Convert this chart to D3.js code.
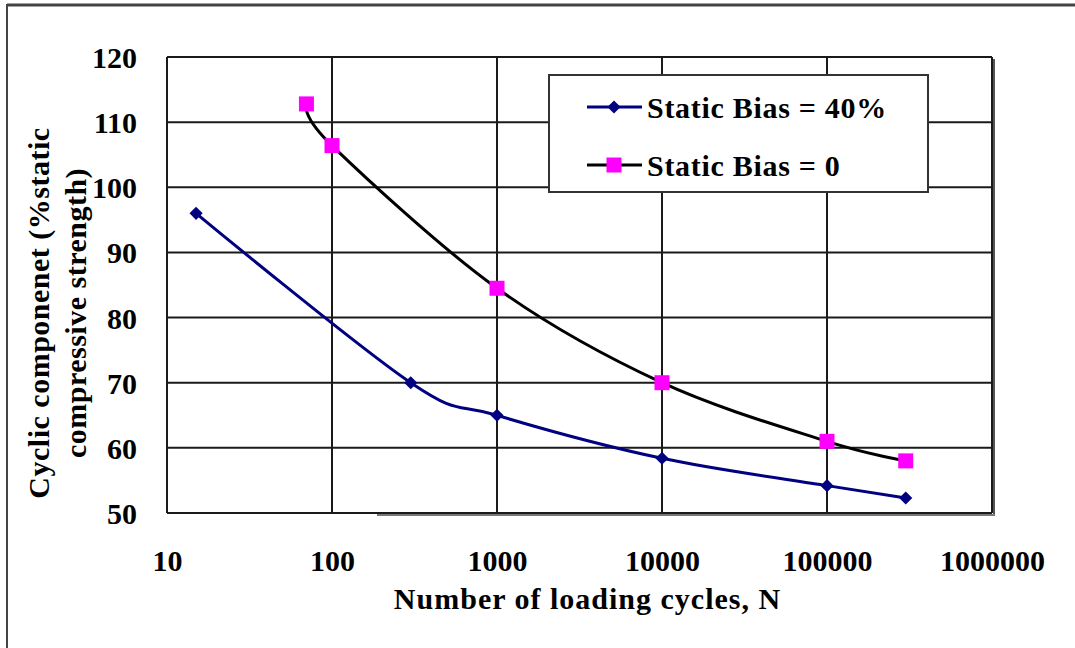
<!DOCTYPE html>
<html>
<head>
<meta charset="utf-8">
<script src="https://cdn.jsdelivr.net/npm/d3@7"></script>
<style>
  html, body { margin: 0; padding: 0; background: #fff; }
  svg { display: block; }
  text { font-family: "Liberation Serif", "Times New Roman", serif; font-weight: bold; fill: #000; }
</style>
</head>
<body>
<svg id="chart" width="1075" height="648"></svg>
<script>
// Cycles to failure (N) and cyclic component (% of static compressive strength)
const bias40Cycles = [15, 300, 1000, 10000, 100000, 300000];
const bias40Values = [96, 70, 65, 58.4, 54.2, 52.3];
const bias0Cycles = [70, 100, 1000, 10000, 100000, 300000];
const bias0Values = [112.8, 106.4, 84.5, 70, 61, 58];
const xTickValues = [10, 100, 1000, 10000, 100000, 1000000];
const xTickLabels = ["10", "100", "1000", "10000", "100000", "1000000"];
const yTickValues = [50, 60, 70, 80, 90, 100, 110, 120];
const seriesNames = ["Static Bias = 40%", "Static Bias = 0"];

const svg = d3.select("#chart");
const plot = { left: 167, top: 57, right: 992, bottom: 513 };

const x = d3.scaleLog().domain([10, 1000000]).range([plot.left, plot.right]);
const y = d3.scaleLinear().domain([50, 120]).range([plot.bottom, plot.top]);

// outer frame (top and left edges visible)
svg.append("line").attr("x1", 7).attr("x2", 1075).attr("y1", 5).attr("y2", 5)
  .attr("stroke", "#444").attr("stroke-width", 3);
svg.append("line").attr("x1", 7).attr("x2", 7).attr("y1", 4).attr("y2", 648)
  .attr("stroke", "#444").attr("stroke-width", 2);

// gridlines
const grid = svg.append("g");
grid.selectAll("line.h").data(yTickValues).join("line").attr("class", "h")
  .attr("x1", plot.left).attr("x2", plot.right)
  .attr("y1", d => y(d)).attr("y2", d => y(d))
  .attr("stroke", "#1a1a1a").attr("stroke-width", 2);
grid.selectAll("line.v").data(xTickValues).join("line").attr("class", "v")
  .attr("x1", d => x(d)).attr("x2", d => x(d))
  .attr("y1", plot.top).attr("y2", plot.bottom)
  .attr("stroke", "#1a1a1a").attr("stroke-width", 2);

// plot-area shadow on right and bottom
svg.append("line").attr("x1", plot.right + 2).attr("x2", plot.right + 2)
  .attr("y1", plot.top + 2).attr("y2", plot.bottom + 2)
  .attr("stroke", "#555").attr("stroke-width", 2);
svg.append("line").attr("x1", plot.left + 210).attr("x2", plot.right + 3)
  .attr("y1", plot.bottom + 2).attr("y2", plot.bottom + 2)
  .attr("stroke", "#777").attr("stroke-width", 2);

// axes (labels only; gridlines drawn above)
const yAxis = svg.append("g").attr("transform", `translate(${plot.left - 30},0)`)
  .call(d3.axisLeft(y).tickValues(yTickValues).tickSize(0).tickPadding(0));
yAxis.select(".domain").remove();
yAxis.selectAll("text").style("font-size", "30px").attr("dy", "0.35em")
  .style("font-family", '"Liberation Serif", serif').style("font-weight", "bold");

const xAxis = svg.append("g").attr("transform", `translate(0,${plot.bottom + 37})`)
  .call(d3.axisBottom(x).tickValues(xTickValues).tickFormat((d, i) => xTickLabels[i]).tickSize(0).tickPadding(0));
xAxis.select(".domain").remove();
xAxis.selectAll("text").style("font-size", "30px").attr("dy", "0.7em")
  .style("font-family", '"Liberation Serif", serif').style("font-weight", "bold");

// axis titles
svg.append("text").attr("x", (plot.left + plot.right) / 2 + 8).attr("y", 609)
  .attr("text-anchor", "middle").style("font-size", "30px").style("letter-spacing", "1px")
  .text("Number of loading cycles, N");
const yt = svg.append("text").attr("transform", "translate(0,313) rotate(-90)")
  .attr("text-anchor", "middle").style("font-size", "30px").style("letter-spacing", "0.5px");
yt.append("tspan").attr("x", 0).attr("y", 49).text("Cyclic componenet (%static");
yt.append("tspan").attr("x", 0).attr("y", 86).text("compressive strength)");

// series
const line = d3.line().x(d => x(d[0])).y(d => y(d[1])).curve(d3.curveCatmullRom.alpha(0));
const s40 = d3.zip(bias40Cycles, bias40Values);
const s0 = d3.zip(bias0Cycles, bias0Values);

svg.append("path").datum(s40).attr("d", line)
  .attr("fill", "none").attr("stroke", "#000080").attr("stroke-width", 3);
svg.append("path").datum(s0).attr("d", line)
  .attr("fill", "none").attr("stroke", "#000").attr("stroke-width", 3);

const diamond = d3.symbol().type(d3.symbolDiamond2).size(110);
svg.selectAll("path.m40").data(s40).join("path").attr("class", "m40")
  .attr("transform", d => `translate(${x(d[0])},${y(d[1])})`)
  .attr("d", diamond).attr("fill", "#000080");
const sq = 15;
svg.selectAll("rect.m0").data(s0).join("rect").attr("class", "m0")
  .attr("x", d => x(d[0]) - sq / 2).attr("y", d => y(d[1]) - sq / 2)
  .attr("width", sq).attr("height", sq).attr("fill", "#ff00ff");

// legend
const lg = svg.append("g");
lg.append("rect").attr("x", 549).attr("y", 75).attr("width", 379).attr("height", 117)
  .attr("fill", "#fff").attr("stroke", "#333").attr("stroke-width", 2);
const rows = [107, 165];
lg.append("line").attr("x1", 587).attr("x2", 642).attr("y1", rows[0]).attr("y2", rows[0])
  .attr("stroke", "#000080").attr("stroke-width", 3);
lg.append("path").attr("transform", `translate(614,${rows[0]})`).attr("d", diamond).attr("fill", "#000080");
lg.append("line").attr("x1", 587).attr("x2", 642).attr("y1", rows[1]).attr("y2", rows[1])
  .attr("stroke", "#000").attr("stroke-width", 3);
lg.append("rect").attr("x", 614 - sq / 2).attr("y", rows[1] - sq / 2).attr("width", sq).attr("height", sq)
  .attr("fill", "#ff00ff");
lg.selectAll("text").data(seriesNames).join("text")
  .attr("x", 647).attr("y", (d, i) => rows[i]).attr("dy", "0.35em")
  .style("font-size", "30px").style("letter-spacing", "0.7px").text(d => d);
</script>
</body>
</html>
